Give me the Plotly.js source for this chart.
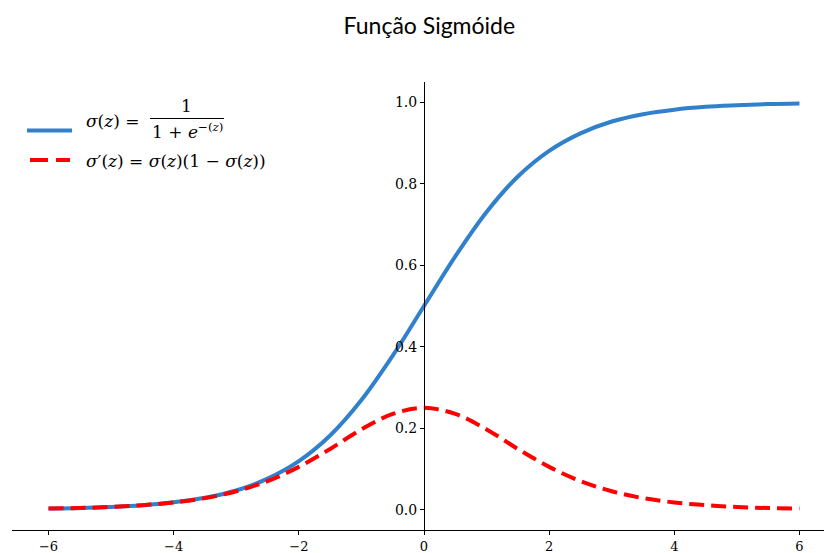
<!DOCTYPE html>
<html>
<head>
<meta charset="utf-8">
<script src="https://cdn.plot.ly/plotly-3.0.1.min.js"></script>
<style>html,body{margin:0;padding:0;background:#fff;}#chart{width:824px;height:553px;}</style>
</head>
<body>
<div id="chart"></div>
<script>
// Values
const zValues = [-6, -5.5, -5, -4.5, -4, -3.5, -3, -2.5, -2, -1.5, -1, -0.5, 0, 0.5, 1, 1.5, 2, 2.5, 3, 3.5, 4, 4.5, 5, 5.5, 6];
const sigmaValues = [0.0025, 0.004, 0.0067, 0.011, 0.018, 0.029, 0.047, 0.076, 0.119, 0.182, 0.269, 0.378, 0.5, 0.622, 0.731, 0.818, 0.881, 0.924, 0.953, 0.971, 0.982, 0.989, 0.993, 0.996, 0.9975];
const derivValues = [0.0025, 0.004, 0.0066, 0.011, 0.0177, 0.0282, 0.0452, 0.0701, 0.105, 0.149, 0.197, 0.235, 0.25, 0.235, 0.197, 0.149, 0.105, 0.0701, 0.0452, 0.0282, 0.0177, 0.011, 0.0066, 0.004, 0.0025];
const xTicks = [-6, -4, -2, 0, 2, 4, 6];
const yTicks = [0.0, 0.2, 0.4, 0.6, 0.8, 1.0];
const yTickText = ['0.0', '0.2', '0.4', '0.6', '0.8', '1.0'];
const titleText = 'Função Sigmóide';

const W = 824, H = 553;
const M = {l: 12, r: 0, t: 82, b: 23};
const PW = W - M.l - M.r, PH = H - M.t - M.b;
const px = x => (x - M.l) / PW;
const py = y => (H - M.b - y) / PH;

const blue = '#3080cc';
const red = '#ff0000';
const serif = 'DejaVu Serif';

const traces = [
  {x: zValues, y: sigmaValues, mode: 'lines', line: {color: blue, width: 4, shape: 'spline', smoothing: 1}, hoverinfo: 'skip', showlegend: false},
  {x: zValues, y: derivValues, mode: 'lines', line: {color: red, width: 4, dash: '15px,7px', shape: 'spline', smoothing: 1}, hoverinfo: 'skip', showlegend: false}
];

const tf = {family: serif, size: 17, color: '#000'};
const annotations = [
  {xref: 'paper', yref: 'paper', x: px(84), y: py(121), xanchor: 'left', yanchor: 'middle', text: '<i>σ</i>(<i>z</i>) =', showarrow: false, font: tf},
  {xref: 'paper', yref: 'paper', x: px(186), y: py(106), xanchor: 'center', yanchor: 'middle', text: '1', showarrow: false, font: tf},
  {xref: 'paper', yref: 'paper', x: px(187), y: py(131), xanchor: 'center', yanchor: 'middle', text: '1 + <i>e</i><sup>−(<i>z</i>)</sup>', showarrow: false, font: tf},
  {xref: 'paper', yref: 'paper', x: px(84), y: py(161), xanchor: 'left', yanchor: 'middle', text: '<i>σ</i>′(<i>z</i>) = <i>σ</i>(<i>z</i>)(1 − <i>σ</i>(<i>z</i>))', showarrow: false, font: tf}
];

const shapes = [
  {type: 'line', xref: 'paper', yref: 'paper', x0: px(27), x1: px(72), y0: py(130.5), y1: py(130.5), line: {color: blue, width: 4}},
  {type: 'line', xref: 'paper', yref: 'paper', x0: px(30), x1: px(70), y0: py(160), y1: py(160), line: {color: red, width: 4, dash: '18px,8px'}},
  {type: 'line', xref: 'paper', yref: 'paper', x0: px(150), x1: px(224), y0: py(118.5), y1: py(118.5), line: {color: '#000', width: 1}}
];

const layout = {
  width: W, height: H,
  margin: M,
  paper_bgcolor: '#fff', plot_bgcolor: '#fff',
  title: {text: titleText, x: 0.514, xref: 'paper', y: 0.953, yref: 'container', xanchor: 'center', yanchor: 'middle', font: {family: 'Lato', size: 23, color: '#000'}},
  xaxis: {
    range: [(12 - 424) / 62.58, (824 - 424) / 62.58],
    domain: [0, 1],
    tickvals: xTicks, ticktext: xTicks.map(v => v < 0 ? '−' + Math.abs(v) : String(v)),
    ticks: 'outside', ticklen: 4, tickwidth: 1, tickcolor: '#000',
    showline: true, linecolor: '#000', linewidth: 1,
    showgrid: false, zeroline: false,
    tickfont: {family: serif, size: 13, color: '#000'}
  },
  yaxis: {
    range: [-0.05, 1.05],
    anchor: 'free', position: px(424),
    tickvals: yTicks, ticktext: yTickText,
    ticks: 'outside', ticklen: 4, tickwidth: 1, tickcolor: '#000',
    showline: true, linecolor: '#000', linewidth: 1,
    showgrid: false, zeroline: false,
    tickfont: {family: serif, size: 14, color: '#000'}
  },
  showlegend: false,
  annotations: annotations,
  shapes: shapes
};

Plotly.newPlot('chart', traces, layout, {staticPlot: true, displayModeBar: false});
</script>
</body>
</html>
